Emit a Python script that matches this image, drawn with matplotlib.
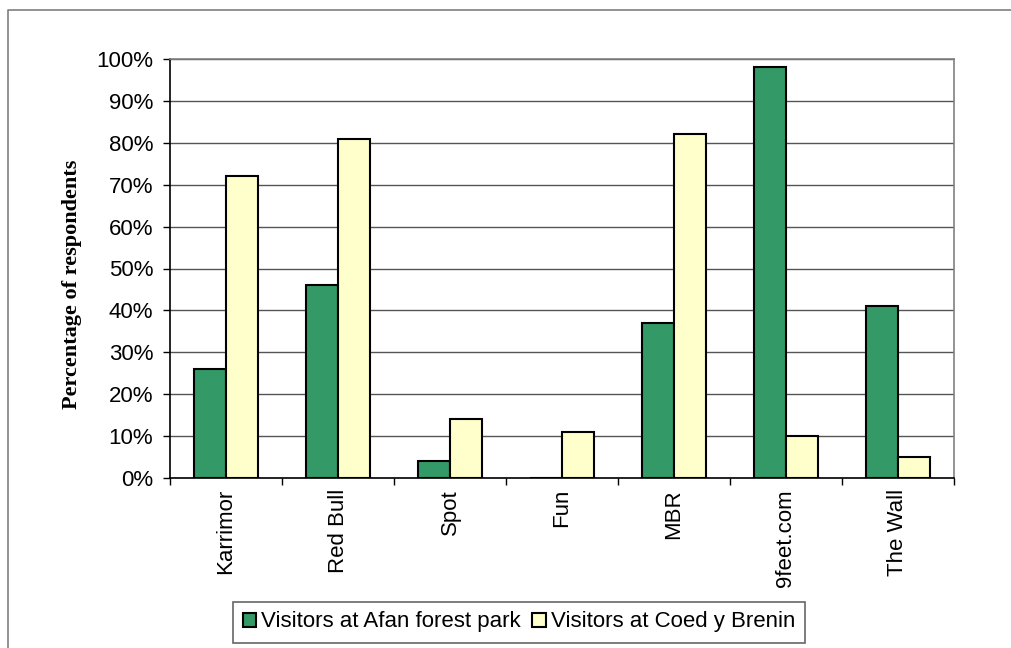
import numpy as np
import matplotlib.pyplot as plt
from matplotlib.lines import Line2D

# data
brands = ["Karrimor", "Red Bull", "Spot", "Fun", "MBR", "9feet.com", "The Wall"]
afan = [26, 46, 4, 0, 37, 98, 41]
coed = [72, 81, 14, 11, 82, 10, 5]
series_names = ["Visitors at Afan forest park", "Visitors at Coed y Brenin"]
yticks = list(range(0, 101, 10))

green = "#339966"
yellow = "#FFFFCC"

W, H = 1011, 648
fig = plt.figure(figsize=(W / 100, H / 100), dpi=100)
# outer chart frame, only top and left edges are inside the picture
fx, fy = 7.5 / W, 1 - 9.5 / H
fig.lines.append(Line2D([fx, fx, 1.0], [0.0, fy, fy], transform=fig.transFigure,
                        color="#7f7f7f", linewidth=1.2))

ax = fig.add_axes([170 / W, 1 - 478 / H, (954 - 170) / W, (478 - 59) / H])

x = np.arange(len(brands))
bw = 0.29
ax.bar(x - bw / 2, afan, bw, color=green, edgecolor="black", linewidth=1.5,
       label=series_names[0], zorder=3)
ax.bar(x + bw / 2, coed, bw, color=yellow, edgecolor="black", linewidth=1.5,
       label=series_names[1], zorder=3)

ax.set_xlim(-0.5, len(brands) - 0.5)
ax.set_ylim(0, 100)
ax.set_yticks(yticks)
ax.set_yticklabels([f"{v}%" for v in yticks], fontsize=16, family="Liberation Sans")
ax.yaxis.grid(True, color="#555555", linewidth=1)
ax.set_axisbelow(True)

ax.set_xticks(x)
ax.set_xticklabels(brands, rotation=90, fontsize=16, family="Liberation Sans")
ax.set_xticks(np.arange(-0.5, len(brands)), minor=True)
ax.tick_params(axis="x", which="major", length=0, pad=8)
ax.tick_params(axis="x", which="minor", length=5, width=1, direction="out")
ax.tick_params(axis="y", length=5, width=1, direction="out", pad=7)

ax.spines["left"].set_color("black")
ax.spines["bottom"].set_color("black")
ax.spines["top"].set_color("#808080")
ax.spines["right"].set_color("#808080")
for s in ax.spines.values():
    s.set_linewidth(1.2)

ax.set_ylabel("Percentage of respondents", fontsize=16, fontweight="bold",
              family="Liberation Serif")
ax.yaxis.set_label_coords((82 - 170) / 784, (478 - 284) / 419)

leg = fig.legend(loc="center", bbox_to_anchor=(519 / W, 1 - 622 / H), ncol=2,
                 frameon=True, fancybox=False, edgecolor="#404040",
                 prop={"family": "Liberation Sans", "size": 16},
                 handlelength=0.6, handleheight=0.6, handletextpad=0.25,
                 columnspacing=0.5, borderpad=0.45, borderaxespad=0)
leg.get_frame().set_linewidth(1.2)

fig.savefig("out.png", dpi=100)
